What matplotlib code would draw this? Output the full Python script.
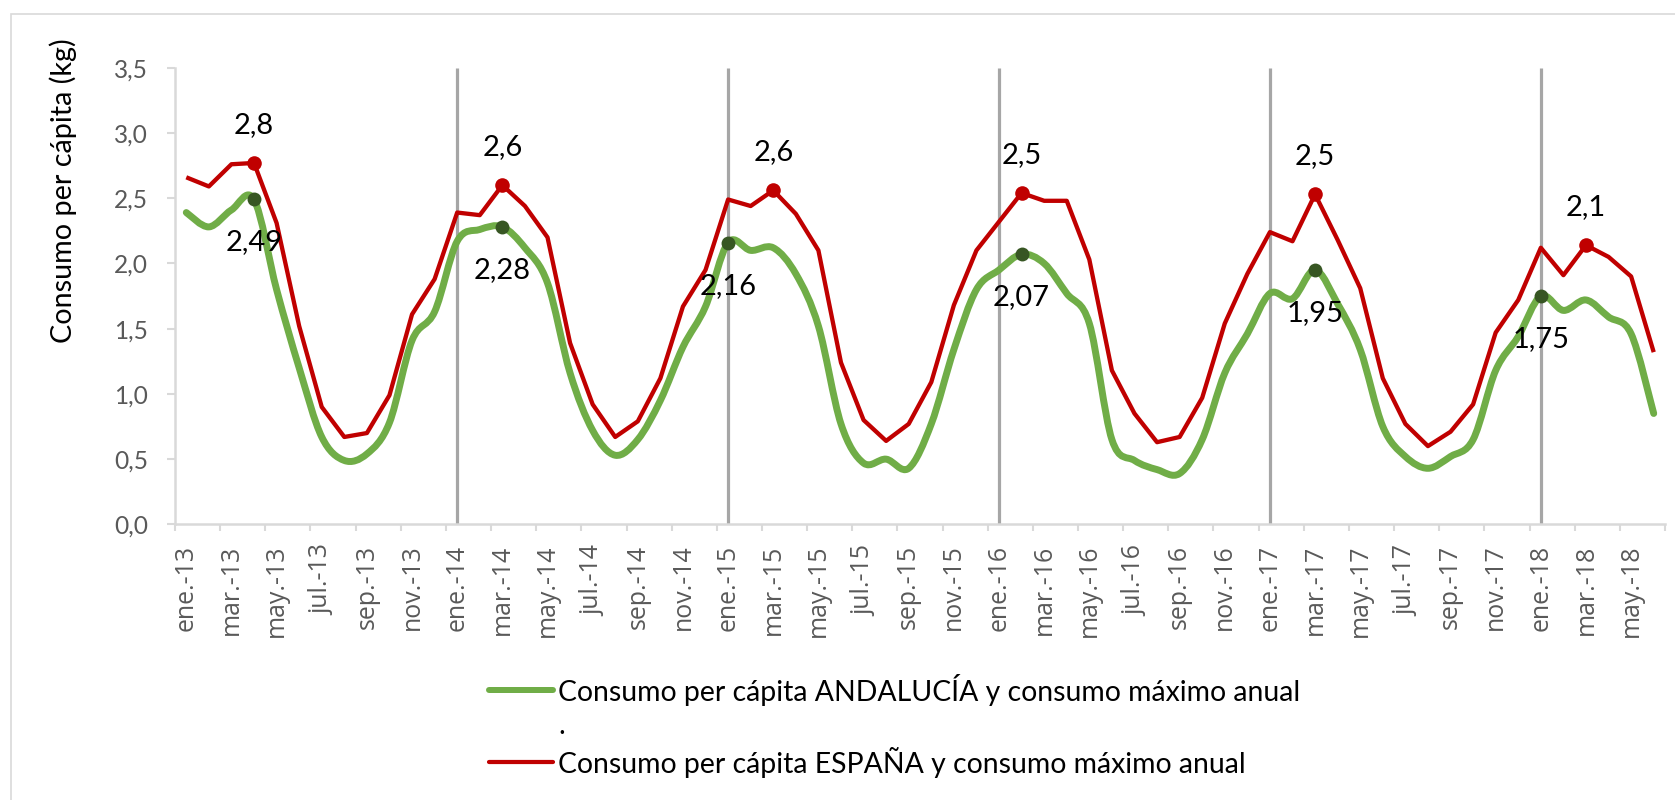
import numpy as np
import matplotlib
matplotlib.use("Agg")
import matplotlib.pyplot as plt
from matplotlib.path import Path
from matplotlib.patches import PathPatch, Rectangle
from matplotlib.lines import Line2D
from matplotlib import font_manager

# ---------------- data ----------------
month_abbr = ["ene.", "feb.", "mar.", "abr.", "may.", "jun.",
              "jul.", "ago.", "sep.", "oct.", "nov.", "dic."]
years = ["13", "14", "15", "16", "17", "18"]
n_months = 66  # ene.-13 ... jun.-18

andalucia = [2.39, 2.28, 2.41, 2.49, 1.80, 1.20, 0.67, 0.49, 0.54, 0.78, 1.41, 1.63,
             2.17, 2.26, 2.28, 2.12, 1.85, 1.16, 0.72, 0.53, 0.65, 0.95, 1.36, 1.67,
             2.16, 2.10, 2.12, 1.92, 1.52, 0.77, 0.47, 0.50, 0.43, 0.77, 1.34, 1.80,
             1.95, 2.07, 2.00, 1.77, 1.54, 0.65, 0.49, 0.42, 0.39, 0.65, 1.16, 1.46,
             1.77, 1.73, 1.95, 1.69, 1.34, 0.75, 0.52, 0.43, 0.52, 0.65, 1.18, 1.44,
             1.75, 1.64, 1.72, 1.59, 1.46, 0.85]

espana = [2.66, 2.59, 2.76, 2.77, 2.31, 1.52, 0.90, 0.67, 0.70, 0.99, 1.61, 1.88,
          2.39, 2.37, 2.60, 2.44, 2.20, 1.39, 0.92, 0.67, 0.79, 1.12, 1.67, 1.95,
          2.49, 2.44, 2.56, 2.38, 2.10, 1.24, 0.80, 0.64, 0.77, 1.09, 1.68, 2.10,
          2.32, 2.54, 2.48, 2.48, 2.03, 1.18, 0.85, 0.63, 0.67, 0.97, 1.54, 1.92,
          2.24, 2.17, 2.53, 2.18, 1.81, 1.12, 0.77, 0.60, 0.71, 0.92, 1.47, 1.72,
          2.12, 1.91, 2.14, 2.05, 1.90, 1.32]

label_and = "Consumo per cápita ANDALUCÍA y consumo máximo anual"
label_esp = "Consumo per cápita ESPAÑA y consumo máximo anual"
y_title = "Consumo per cápita (kg)"
y_ticks = [0.0, 0.5, 1.0, 1.5, 2.0, 2.5, 3.0, 3.5]

categories = [f"{m}-{y}" for y in years for m in month_abbr][:n_months]

# ---------------- style ----------------
GREEN = "#70AD47"
DARK_GREEN = "#375623"
RED = "#C00000"
GRID_GRAY = "#A6A6A6"
AXIS_GRAY = "#D9D9D9"
TEXT_GRAY = "#595959"

fams = {f.name for f in font_manager.fontManager.ttflist}
CAL = "Lato" if "Lato" in fams else "DejaVu Sans"
XF = "Open Sans" if "Open Sans" in fams else "DejaVu Sans"

W, H = 1675, 800
fig = plt.figure(figsize=(W / 100, H / 100), dpi=100)
renderer = fig.canvas.get_renderer()


def fit_size(txt, family, target_px, base=20.0):
    t = fig.text(0, 0, txt, fontsize=base, family=family)
    w = t.get_window_extent(renderer=renderer).width
    t.remove()
    return base * target_px / w


fs_ytick = fit_size("3,5", CAL, 34)
fs_xtick = fit_size("ene.-13", XF, 86)
fs_ylab = fit_size(y_title, CAL, 305)
fs_ann = fit_size("2,49", CAL, 57)
fs_leg = fit_size(label_and, CAL, 740)

# axes placement (pixels -> figure fraction)
ax_l, ax_r = 175, 1665
ax_top, ax_bot = 67.7, 524.4
ax = fig.add_axes([ax_l / W, 1 - ax_bot / H, (ax_r - ax_l) / W, (ax_bot - ax_top) / H])

x = np.arange(n_months)
and_arr = np.array(andalucia)
esp_arr = np.array(espana)

# yearly separators (each January after the first)
jan_idx = [i for i, c in enumerate(categories) if c.startswith("ene.") and i > 0]
ax.vlines(jan_idx, 0, 3.5, color=GRID_GRAY, lw=2.3, zorder=1)


# smoothed Andalucía line (Bezier through the data points, like Excel "smoothed line")
def smooth_path(xs, ys):
    pts = np.column_stack([xs, ys]).astype(float)
    n = len(pts)
    verts = [pts[0]]
    codes = [Path.MOVETO]
    for i in range(n - 1):
        p0 = pts[i - 1] if i > 0 else pts[i]
        p1 = pts[i]
        p2 = pts[i + 1]
        p3 = pts[i + 2] if i + 2 < n else pts[i + 1]
        c1 = p1 + (p2 - p0) / 6.0
        c2 = p2 - (p3 - p1) / 6.0
        verts += [c1, c2, p2]
        codes += [Path.CURVE4] * 3
    return Path(verts, codes)


ax.add_patch(PathPatch(smooth_path(x, and_arr), facecolor="none", edgecolor=GREEN,
                       lw=5.0, capstyle="round", joinstyle="round", zorder=2))
ax.plot(x, esp_arr, color=RED, lw=3.1, solid_joinstyle="round",
        solid_capstyle="butt", zorder=3)

# annual maxima
year_of = [c.split("-")[1] for c in categories]
max_and, max_esp = [], []
for yv in years:
    idx = [i for i, yy in enumerate(year_of) if yy == yv]
    max_and.append(idx[int(np.argmax(and_arr[idx]))])
    max_esp.append(idx[int(np.argmax(esp_arr[idx]))])

ax.plot(max_and, and_arr[max_and], "o", color=DARK_GREEN, ms=10, mec="none", zorder=4)
ax.plot(max_esp, esp_arr[max_esp], "o", color=RED, ms=10.5, mec="none", zorder=5)

for i in max_esp:
    ax.annotate(f"{esp_arr[i]:.1f}".replace(".", ","), (i, esp_arr[i]),
                xytext=(0, 27.5), textcoords="offset points", ha="center", va="center",
                fontsize=fs_ann, family=CAL, color="black", zorder=6)
for i in max_and:
    ax.annotate(f"{and_arr[i]:.2f}".replace(".", ","), (i, and_arr[i]),
                xytext=(0, -31), textcoords="offset points", ha="center", va="center",
                fontsize=fs_ann, family=CAL, color="black", zorder=6)

# axes
ax.set_xlim(-0.5, n_months - 0.5)
ax.set_ylim(0, 3.5)
for s in ("top", "right"):
    ax.spines[s].set_visible(False)
for s in ("left", "bottom"):
    ax.spines[s].set_color(AXIS_GRAY)
    ax.spines[s].set_linewidth(1.8)

ax.set_yticks(y_ticks)
ax.set_yticklabels([f"{v:.1f}".replace(".", ",") for v in y_ticks],
                   fontsize=fs_ytick, family=CAL, color=TEXT_GRAY)
ax.tick_params(axis="y", length=6, width=1.5, color=AXIS_GRAY, pad=13.5)

ax.set_xticks(x[::2])
ax.set_xticklabels(categories[::2], rotation=90, fontsize=fs_xtick, family=XF,
                   color=TEXT_GRAY)
ax.set_xticks(np.arange(-0.5, n_months, 2), minor=True)
ax.tick_params(axis="x", which="major", length=0, pad=14.5)
ax.tick_params(axis="x", which="minor", length=5, width=1.5, color=AXIS_GRAY)

ax.set_ylabel(y_title, fontsize=fs_ylab, family=CAL, color="black", va="center")
ax.yaxis.set_label_coords((63 - ax_l) / (ax_r - ax_l), (ax_bot - 190.5) / (ax_bot - ax_top))

# legend (drawn in figure pixel space)
def fy(py):
    return 1 - py / H


rows = [(690, GREEN, 6.0, label_and), (726, None, 0, "."), (762, RED, 4.2, label_esp)]
for py, col, lwpx, txt in rows:
    if col is not None:
        fig.add_artist(Line2D([489 / W, 553 / W], [fy(py), fy(py)], color=col,
                              lw=lwpx * 0.72, solid_capstyle="round",
                              transform=fig.transFigure))
    fig.text(558 / W, fy(py), txt, fontsize=fs_leg, family=CAL, color="black",
             ha="left", va="center")

# outer chart border
fig.add_artist(Rectangle((10.5 / W, -0.1), 1.2, 1.1 - 14 / H, fill=False,
                         edgecolor=AXIS_GRAY, lw=1.2, transform=fig.transFigure))

fig.savefig("out.png", dpi=100)
